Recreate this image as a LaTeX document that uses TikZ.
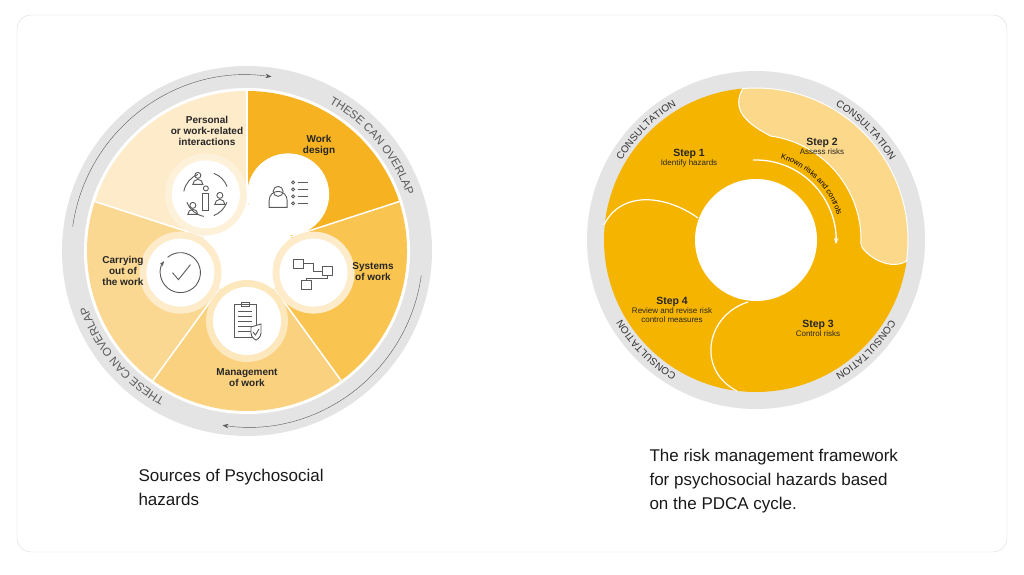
\documentclass[tikz,border=0pt]{standalone}
\usepackage{fontspec}
\setmainfont{Liberation Sans}
\usetikzlibrary{decorations.text,arrows.meta}
\definecolor{ringgrey}{HTML}{E4E4E4}
\definecolor{darkline}{HTML}{5A5A5A}
\definecolor{wdcol}{HTML}{F6B220}
\definecolor{swcol}{HTML}{F9C44F}
\definecolor{mwcol}{HTML}{FAD17E}
\definecolor{cwcol}{HTML}{FBD891}
\definecolor{picol}{HTML}{FDEBCA}
\definecolor{stepcol}{HTML}{F5B400}
\definecolor{steplight}{HTML}{FBD88A}
\begin{document}
\begin{tikzpicture}[x=1pt,y=1pt,
                    seglabel/.style={font=\fontsize{10}{11}\selectfont\bfseries, align=center, text=black!85},
                    steplabel/.style={font=\fontsize{8}{9}\selectfont, align=center, text=black!85},
                    caption/.style={font=\fontsize{17}{24}\selectfont, align=left, anchor=north west, text=black!90},
                    ringtext/.style={decorate, decoration={text along path, text align=center,
                                     text={|\fontsize{11.5}{12}\selectfont\color{darkline}|#1}}},
                    icon/.style={draw=darkline, line width=0.9pt},
                    >={Stealth[length=6pt]}]
\useasboundingbox (0,0) rectangle (1024,574);
\draw[black!15, rounded corners=14pt] (17,22) rectangle (1007,559);

% sources of psychosocial hazards
\begin{scope}[shift={(247,323)}]
  \fill[ringgrey] (0,0) circle[radius=185];
  \fill[white] (0,0) circle[radius=163];
  \fill[wdcol] (0,0) -- (18:160) arc[start angle=18,end angle=90,radius=160] -- cycle;
  \fill[swcol] (0,0) -- (-54:160) arc[start angle=-54,end angle=18,radius=160] -- cycle;
  \fill[mwcol] (0,0) -- (-126:160) arc[start angle=-126,end angle=-54,radius=160] -- cycle;
  \fill[cwcol] (0,0) -- (162:160) arc[start angle=162,end angle=234,radius=160] -- cycle;
  \fill[picol] (0,0) -- (90:160) arc[start angle=90,end angle=162,radius=160] -- cycle;
  \foreach \a in {18,90,162,234,306}
    \draw[white, line width=1.5pt] (0,0) -- (\a:160);
  \fill[white] (0,0) circle[radius=46];
  \foreach \a/\c in {126/picol!70, 54/white, -18/picol, -90/cwcol!60, 198/picol}
    \fill[\c] (\a:70) circle[radius=41];
  \foreach \a in {126,54,-18,-90,198}
    \fill[white] (\a:70) circle[radius=34];
  % ring arrows and texts
  \draw[darkline, ->] (172:176) arc[start angle=172,end angle=82,radius=176];
  \draw[darkline, ->] (-8:176) arc[start angle=-8,end angle=-98,radius=176];
  \path[ringtext={THESE CAN OVERLAP}] (79:169) arc[start angle=79,end angle=1,radius=169];
  \path[ringtext={THESE CAN OVERLAP}] (-101:169) arc[start angle=-101,end angle=-179,radius=169];
  % labels
  \node[seglabel] (pers) at (-40,120) {Personal\\or work-related\\interactions};
  \node[seglabel] (wdes) at (72,106) {Work\\design};
  \node[seglabel] (syst) at (126,-21) {Systems\\of work};
  \node[seglabel] (mgmt) at (0,-127) {Management\\of work};
  \node[seglabel] (carr) at (-124,-20) {Carrying\\out of\\the work};
  % icon: interactions
  \begin{scope}[shift={(126:70)}, icon]
    \draw (-2,-22) arc[start angle=260,end angle=200,radius=22];
    \draw (-22,3) arc[start angle=170,end angle=110,radius=22];
    \draw (8,21) arc[start angle=70,end angle=20,radius=22];
    \draw (21,-8) arc[start angle=-20,end angle=-70,radius=22];
    \draw (0,6) circle[radius=2.5]; \draw (-3,1) rectangle (3,-16);
    \draw (-8,19) circle[radius=3]; \draw (-13,10) arc[start angle=180,end angle=0,radius=5] -- cycle;
    \draw (14,-1) circle[radius=3]; \draw (9,-10) arc[start angle=180,end angle=0,radius=5] -- cycle;
    \draw (-13,-11) circle[radius=3]; \draw (-18,-20) arc[start angle=180,end angle=0,radius=5] -- cycle;
  \end{scope}
  % icon: work design
  \begin{scope}[shift={(54:70)}, icon]
    \draw (-10,3) circle[radius=5];
    \draw (-19,-13) -- (-19,-6) arc[start angle=180,end angle=0,radius=9] -- (-1,-13) -- cycle;
    \foreach \y in {12,5,-2,-9} {\draw (5,\y) circle[radius=1.5]; \draw (10,\y) -- (20,\y);}
  \end{scope}
  % icon: systems of work
  \begin{scope}[shift={(-18:70)}, icon]
    \draw (-20,4) rectangle (-10,13); \draw (9,-3) rectangle (19,6); \draw (-12,-17) rectangle (-2,-8);
    \draw (-10,9) -- (0,9) -- (0,1) -- (9,1); \draw (14,-3) -- (14,-6) -- (-7,-6) -- (-7,-8);
  \end{scope}
  % icon: management of work
  \begin{scope}[shift={(-90:70)}, icon]
    \draw (-13,17) rectangle (9,-16); \draw (-6,19) rectangle (2,15);
    \foreach \y in {10,5,0,-5,-10} \draw (-9,\y) -- (5,\y);
    \fill[white] (4,-6) -- (14,-3) -- (14,-12) .. controls (14,-17) and (9,-19) .. (9,-19) .. controls (9,-19) and (4,-17) .. (4,-12) -- cycle;
    \draw (4,-6) -- (14,-3) -- (14,-12) .. controls (14,-17) and (9,-19) .. (9,-19) .. controls (9,-19) and (4,-17) .. (4,-12) -- cycle;
    \draw (6,-11) -- (8.5,-14) -- (12,-8);
  \end{scope}
  % icon: carrying out
  \begin{scope}[shift={(198:70)}, icon]
    \draw[-{Stealth[length=5pt]}] (130:20) arc[start angle=130,end angle=-215,radius=20];
    \draw (-8,0) -- (-2,-7) -- (10,8);
  \end{scope}
\end{scope}
\node[caption] (capleft) at (135,108) {Sources of Psychosocial\\hazards};

% risk management framework
\begin{scope}[shift={(756,334)}]
  \fill[ringgrey] (0,0) circle[radius=169];
  \fill[stepcol] (0,0) circle[radius=152];
  \filldraw[steplight, draw=white, line width=1pt]
    (95:152) arc[start angle=95,end angle=-8,radius=152]
    .. controls (-14:135) and (-6:105) .. (-2:105)
    arc[start angle=-2,end angle=82,radius=105]
    .. controls (97:120) and (100:135) .. (95:152);
  \draw[white, line width=1.2pt] (-152,15) .. controls (-135,50) and (-90,45) .. (-58,22);
  \draw[white, line width=1.2pt] (-8,-62) .. controls (-50,-75) and (-60,-130) .. (-19,-151);
  \fill[white] (0,0) circle[radius=61];
  \draw[white, line width=1.3pt, ->] (92:80) arc[start angle=92,end angle=-3,radius=80];
  \path[decorate, decoration={text along path, text align=center,
        text={|\fontsize{7.5}{8}\selectfont|Known risks and controls}}]
    (86:85) arc[start angle=86,end angle=4,radius=85];
  \foreach \a in {135,45,-45,-135}
    \path[decorate, decoration={text along path, text align=center,
          text={|\fontsize{10}{10}\selectfont\color{black!80}|CONSULTATION}}]
      (\a+30:156) arc[start angle=\a+30,end angle=\a-30,radius=156];
  \node[steplabel] (s1) at (-67,82) {\textbf{\fontsize{10.5}{12}\selectfont Step 1}\\Identify hazards};
  \node[steplabel] (s2) at (66,94) {\textbf{\fontsize{10.5}{12}\selectfont Step 2}\\Assess risks};
  \node[steplabel] (s3) at (62,-88) {\textbf{\fontsize{10.5}{12}\selectfont Step 3}\\Control risks};
  \node[steplabel] (s4) at (-84,-70) {\textbf{\fontsize{10.5}{12}\selectfont Step 4}\\Review and revise risk\\control measures};
\end{scope}
\node[caption] (capright) at (646,128) {The risk management framework\\for psychosocial hazards based\\on the PDCA cycle.};
\end{tikzpicture}
\end{document}
